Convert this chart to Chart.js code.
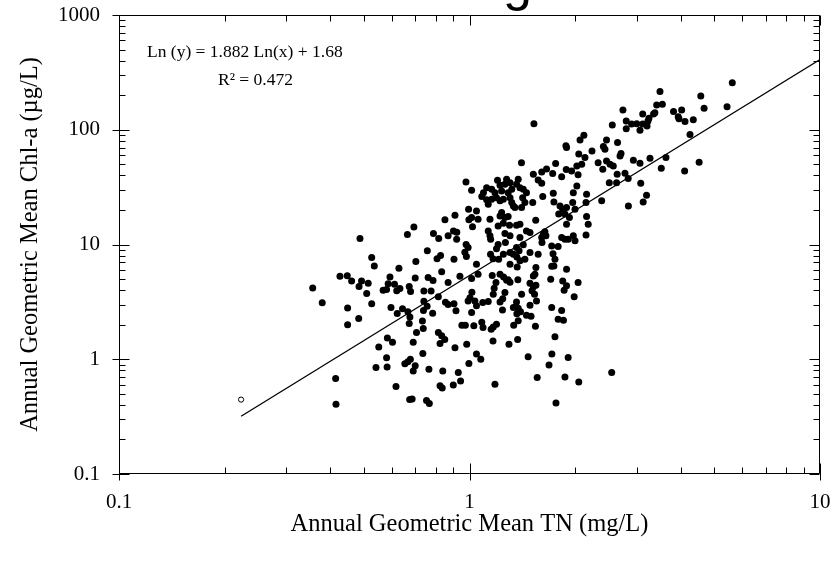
<!DOCTYPE html>
<html>
<head>
<meta charset="utf-8">
<script src="https://cdn.jsdelivr.net/npm/chart.js@4.4.1/dist/chart.umd.min.js"></script>
<style>
  html, body { margin: 0; padding: 0; background: #fff; }
  canvas { display: block; }
</style>
</head>
<body>
<canvas id="chart" width="835" height="561"></canvas>
<script>
// Annual geometric means per site: total nitrogen (mg/L) and chlorophyll-a (µg/L)
const tnValues = [
  0.357,0.38,0.415,0.416,0.427,0.448,0.461,0.449,0.449,0.483,
  0.487,0.484,0.492,0.514,0.509,0.526,0.526,0.535,0.629,0.703,
  0.694,0.665,0.758,0.789,0.817,0.808,0.827,0.593,0.586,0.611,
  0.58,0.567,0.62,0.633,0.673,0.679,0.70,0.762,0.787,0.741,
  0.777,0.815,0.833,0.597,0.622,0.644,0.667,0.676,0.673,0.741,
  0.757,0.739,0.785,0.734,0.738,0.706,0.583,0.603,0.551,0.691,
  0.736,0.58,0.582,0.541,0.654,0.667,0.678,0.70,0.691,0.766,
  0.617,0.675,0.686,0.754,0.768,0.815,0.833,0.85,0.824,0.839,
  0.824,0.836,0.854,0.869,0.903,0.915,0.869,0.939,0.909,0.929,
  0.943,0.899,0.903,0.919,
  0.978,0.991,0.97,0.98,1.047,1.148,1.167,1.194,1.211,1.249,
  1.266,1.305,1.334,1.365,1.385,1.362,1.424,1.439,1.393,1.488,
  1.57,1.61,1.716,1.731,1.753,1.79,1.716,1.741,1.705,1.892,
  2.041,2.0,1.547,1.537,1.305,1.368,1.014,1.058,1.016,1.003,
  0.991,1.036,1.161,1.19,1.176,1.169,1.222,1.251,1.276,1.289,
  1.305,1.262,1.244,1.222,1.091,1.131,1.047,1.014,1.374,1.408,
  1.362,1.488,1.521,1.547,1.508,1.533,1.553,1.521,1.488,1.334,
  1.377,1.398,1.365,1.242,1.454,1.498,1.377,1.337,1.542,1.716,
  1.832,1.79,1.854,0.951,0.973,1.029,1.084,1.093,1.153,1.169,
  1.194,0.982,1.167,1.296,1.372,1.753,1.047,1.077,0.996,1.47,
  1.718,1.686,1.912,1.182,1.56,1.872,2.05,1.765,2.545,1.845,
  1.892,1.862,1.989,
  1.527,1.884,1.892,2.067,2.05,1.761,1.407,1.659,1.607,1.521,
  1.57,1.607,1.727,1.832,1.888,1.956,2.024,2.041,0.977,1.014,
  1.202,1.222,1.276,1.262,1.305,1.377,1.362,1.393,1.32,1.289,
  1.235,1.119,1.096,1.084,1.157,1.182,1.157,1.119,1.131,1.194,
  1.222,1.249,1.305,1.32,1.348,1.334,1.424,1.418,1.439,1.454,
  1.408,1.515,1.618,1.734,1.741,1.812,1.845,1.892,1.872,1.892,
  1.97,2.0,1.978,2.024,1.797,1.928,1.235,1.222,1.262,1.289,
  1.249,1.301,1.362,1.393,1.144,1.207,0.994,1.047,1.014,0.996,
  1.058,0.909,0.851,1.02,0.90,0.92,0.869,1.131,1.144,1.149,
  1.207,1.262,1.305,1.393,1.454,1.488,1.545,1.624,1.607,1.641,
  1.652,1.832,1.872,1.912,1.978,
  5.62,4.57,4.67,5.43,3.495,3.42,3.55,3.38,3.35,3.82,
  4.03,3.94,3.96,4.12,4.35,3.12,3.25,3.23,3.21,3.12,
  3.065,3.0,2.90,2.80,2.80,2.74,2.555,4.257,2.12,2.46,
  2.41,2.435,2.645,2.236,2.135,2.706,2.688,2.934,3.065,3.273,
  3.635,2.328,2.40,2.46,2.517,2.572,2.09,3.525,4.11,4.52,
  2.638,2.777,2.836,2.628,2.505,2.158,2.15,2.158,2.181,2.15,
  3.08,3.20,3.13,2.84,2.383
];
const chlaValues = [
  4.18,3.1,0.68,0.405,5.3,5.35,4.8,2.8,2.0,2.26,
  11.3,4.3,4.8,4.6,3.74,3.05,7.7,6.5,6.2,7.1,
  14.2,12.2,8.8,12.5,11.3,7.5,8.0,5.2,4.55,4.5,
  4.05,4.0,3.95,4.13,4.3,3.9,5.1,5.15,4.85,3.93,
  3.93,3.5,5.8,2.82,2.5,2.75,2.6,2.33,2.05,3.2,
  2.9,2.66,2.52,2.15,1.85,1.71,1.53,1.41,1.28,1.41,
  1.12,1.03,0.856,0.846,0.914,0.95,1.0,0.878,0.79,0.818,
  0.578,0.445,0.451,0.437,0.412,1.71,1.6,1.49,1.37,0.79,
  0.587,0.563,3.14,3.0,3.04,2.64,4.66,5.3,1.26,0.765,
  0.646,0.597,7.44,11.1,
  10.0,9.4,8.57,7.86,6.73,8.23,7.52,9.2,7.44,8.23,
  10.4,8.5,8.23,7.8,8.8,9.4,9.94,7.44,7.2,8.5,
  8.23,10.4,9.7,8.3,7.44,9.6,6.46,6.5,4.98,6.09,
  4.66,10.8,6.3,5.5,6.73,6.37,5.06,5.5,3.83,3.44,
  3.22,3.22,5.37,4.66,4.16,3.68,5.5,5.2,4.88,4.93,
  4.69,3.81,3.37,3.16,3.12,3.19,2.92,2.55,4.93,3.68,
  3.16,4.59,4.28,4.41,3.95,3.68,3.22,5.32,2.95,2.82,
  2.78,2.6,2.49,2.68,2.42,2.37,2.16,1.98,1.94,2.82,
  2.66,2.23,2.19,1.98,1.98,1.96,2.1,1.89,1.83,1.91,
  2.02,1.35,1.44,1.35,1.49,1.57,1.11,1.0,0.917,1.05,
  1.11,0.892,1.035,0.605,0.692,0.7,0.634,0.415,0.765,4.81,
  4.37,3.99,3.51,
  113,72.5,69.9,81.5,61.5,50.8,51.7,45.5,42.9,41.0,
  36.5,34.1,41.6,39.0,45.0,43.8,48.3,40.6,35.0,29.7,
  36.3,32.8,37.0,33.5,34.6,37.0,33.5,31.3,30.3,28.3,
  29.3,31.3,28.3,26.2,30.3,28.3,24.8,24.5,22.4,25.6,
  24.0,24.8,25.6,23.2,21.0,21.7,30.3,25.6,23.2,28.3,
  21.0,23.2,26.2,28.0,23.5,21.7,20.3,21.0,18.4,15.0,
  23.2,20.3,28.3,32.3,18.4,17.2,19.0,17.7,17.2,17.5,
  15.3,14.7,14.7,15.0,16.6,14.5,20.3,19.6,17.2,16.4,
  16.6,18.0,16.4,14.3,13.1,12.8,11.9,13.1,11.9,11.1,
  10.0,12.5,11.9,11.5,13.1,12.7,16.3,12.3,11.5,12.9,
  11.9,11.5,11.1,11.1,11.9,
  257,197,154,159,215,164,167,141,137,144,
  149,130,125,118,122,137,126,119,108,112,
  99,113,112,119,102,149,110,90.8,89.5,81.5,
  71.3,67.6,77.3,65.3,57.2,62.0,59.1,54.2,51.0,56.4,
  57.2,51.7,45.3,53.4,50.0,48.3,50.0,46.2,43.8,52.1,
  41.0,41.8,37.6,34.6,34.6,27.4,23.2,17.5,15.0,12.1,
  34.1,26.9,23.5,21.7,24.0
];

// Site left out of the fit (open symbol)
const excludedTN = [0.223];
const excludedChla = [0.445];

// Fitted relation: Ln(y) = slope * Ln(x) + intercept, drawn across this TN range
const fitSlope = 1.882;
const fitIntercept = 1.68;
const fitR2 = 0.472;
const fitRange = [0.223, 10];

const xTickValues = [0.1, 1, 10];
const yTickValues = [0.1, 1, 10, 100, 1000];

const serif = '"Liberation Serif", "Times New Roman", Times, serif';

// Minor tick values (2..9 × 10^k) between the given bounds
function minorTicks(min, max) {
  const out = [];
  for (let k = Math.floor(Math.log10(min)); k < Math.ceil(Math.log10(max)); k++) {
    for (let d = 2; d <= 9; d++) {
      const v = d * Math.pow(10, k);
      if (v > min && v < max) out.push(v);
    }
  }
  return out;
}

// Closed frame with inward tick marks on all four sides, plus the fit equation
const frameAndTicks = {
  id: 'frameAndTicks',
  afterDatasetsDraw(chart) {
    const { ctx, chartArea: a, scales: { x, y } } = chart;
    const L = Math.round(a.left) + 0.5, R = Math.round(a.right) - 0.5;
    const T = Math.round(a.top) + 0.5, B = Math.round(a.bottom) - 0.5;
    ctx.save();
    ctx.strokeStyle = '#000';
    ctx.lineWidth = 1;
    ctx.beginPath();
    ctx.rect(L, T, R - L, B - T);
    ctx.stroke();

    const majorIn = 10, majorOut = 7, minorIn = 6;
    ctx.beginPath();
    // x axis (bottom & top)
    xTickValues.forEach(v => {
      const p = Math.round(x.getPixelForValue(v)) + 0.5;
      ctx.moveTo(p, B + majorOut); ctx.lineTo(p, B - majorIn);
      ctx.moveTo(p, T); ctx.lineTo(p, T + majorIn);
    });
    minorTicks(x.min, x.max).forEach(v => {
      const p = Math.round(x.getPixelForValue(v)) + 0.5;
      ctx.moveTo(p, B); ctx.lineTo(p, B - minorIn);
      ctx.moveTo(p, T); ctx.lineTo(p, T + minorIn);
    });
    // y axis (left & right)
    yTickValues.forEach(v => {
      const p = Math.round(y.getPixelForValue(v)) + 0.5;
      ctx.moveTo(L - majorOut, p); ctx.lineTo(L + majorIn, p);
      ctx.moveTo(R, p); ctx.lineTo(R - majorIn, p);
    });
    minorTicks(y.min, y.max).forEach(v => {
      const p = Math.round(y.getPixelForValue(v)) + 0.5;
      ctx.moveTo(L, p); ctx.lineTo(L + minorIn, p);
      ctx.moveTo(R, p); ctx.lineTo(R - minorIn, p);
    });
    ctx.stroke();

    // Fit equation
    ctx.fillStyle = '#000';
    ctx.font = '17.5px ' + serif;
    ctx.textBaseline = 'middle';
    ctx.textAlign = 'left';
    ctx.fillText('Ln (y) = ' + fitSlope.toFixed(3) + ' Ln(x) + ' + fitIntercept.toFixed(2), 147, 52);
    ctx.fillText('R² = ' + fitR2.toFixed(3), 218, 80);

    // Heading above the frame (only its lower part falls inside the page)
    ctx.font = '52px "Liberation Sans", Arial, sans-serif';
    ctx.textBaseline = 'alphabetic';
    ctx.fillText('g', 503, 0);
    ctx.restore();
  }
};

const fitPoints = fitRange.map(v => ({ x: v, y: Math.exp(fitSlope * Math.log(v) + fitIntercept) }));

new Chart(document.getElementById('chart'), {
  type: 'scatter',
  data: {
    datasets: [
      {
        label: 'Sites',
        data: tnValues.map((v, i) => ({ x: v, y: chlaValues[i] })),
        pointRadius: 3.5,
        pointBackgroundColor: '#000',
        pointBorderWidth: 0,
        pointHoverRadius: 3.5
      },
      {
        label: 'Excluded',
        data: excludedTN.map((v, i) => ({ x: v, y: excludedChla[i] })),
        pointRadius: 2.6,
        pointBackgroundColor: '#fff',
        pointBorderColor: '#000',
        pointBorderWidth: 1
      },
      {
        label: 'Fit',
        type: 'line',
        data: fitPoints,
        showLine: true,
        borderColor: '#000',
        borderWidth: 1.3,
        pointRadius: 0,
        fill: false,
        tension: 0
      }
    ]
  },
  options: {
    responsive: false,
    animation: false,
    devicePixelRatio: 1,
    layout: { padding: { top: 15, right: 15, left: 0, bottom: 0 } },
    plugins: { legend: { display: false }, tooltip: { enabled: false } },
    scales: {
      x: {
        type: 'logarithmic',
        min: 0.1,
        max: 10,
        grid: { display: false, drawTicks: false },
        border: { display: false },
        afterBuildTicks: s => { s.ticks = xTickValues.map(v => ({ value: v })); },
        afterFit: s => { s.height = 87; s.paddingLeft = 0; s.paddingRight = 0; },
        ticks: {
          callback: v => String(v),
          font: { family: serif, size: 21 },
          color: '#000',
          padding: 16,
          maxRotation: 0,
          autoSkip: false
        },
        title: {
          display: true,
          text: 'Annual Geometric Mean TN (mg/L)',
          font: { family: serif, size: 24.5 },
          color: '#000',
          padding: { top: 0, bottom: 22 }
        }
      },
      y: {
        type: 'logarithmic',
        min: 0.1,
        max: 1000,
        grid: { display: false, drawTicks: false },
        border: { display: false },
        afterBuildTicks: s => { s.ticks = yTickValues.map(v => ({ value: v })); },
        afterFit: s => { s.width = 119; s.paddingTop = 0; s.paddingBottom = 0; },
        ticks: {
          callback: v => String(v),
          font: { family: serif, size: 21 },
          color: '#000',
          padding: 19,
          autoSkip: false
        },
        title: {
          display: true,
          text: 'Annual Geometric Mean Chl-a (µg/L)',
          font: { family: serif, size: 24.5 },
          color: '#000',
          padding: { top: 16, bottom: 0 }
        }
      }
    }
  },
  plugins: [frameAndTicks]
});
</script>
</body>
</html>
